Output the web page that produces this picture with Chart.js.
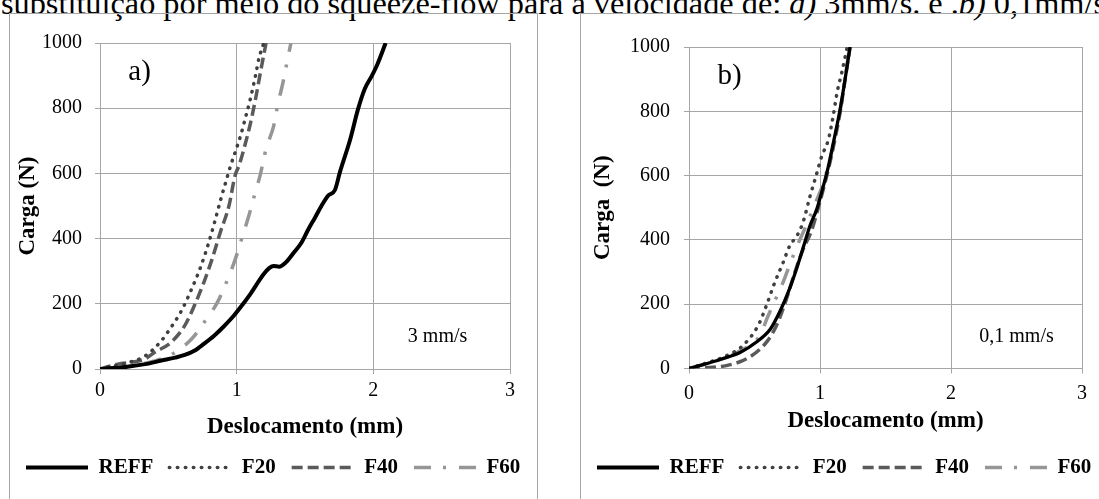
<!DOCTYPE html>
<html lang="pt">
<head>
<meta charset="UTF-8">
<title>Squeeze-flow: carga x deslocamento</title>
<script src="https://cdn.jsdelivr.net/npm/chart.js"></script>
<style>
  * { margin: 0; padding: 0; box-sizing: border-box; }
  html, body { width: 1099px; height: 499px; overflow: hidden; background: #fff; }
  body { position: relative; font-family: "Liberation Serif", "Times New Roman", serif; color: #000; }
  .legenda {
    position: absolute; left: 1px; top: -13px;
    font-size: 32.3px; line-height: 32px; white-space: nowrap;
  }
  .moldura { position: absolute; border: 1px solid #a6a6a6; }
  #boxA { left: 9px; top: 13px; width: 529px; height: 520px; }
  #boxB { left: 580px; top: 13px; width: 560px; height: 520px; }
  canvas { position: absolute; }
  #chartA { left: 10px; top: 14px; }
  #chartB { left: 581px; top: 14px; }
</style>
</head>
<body>
  <div class="legenda">substituição por meio do squeeze-flow para a velocidade de: <i>a)</i> 3mm/s. e .<i>b)</i> 0,1mm/s</div>
  <div class="moldura" id="boxA"></div>
  <div class="moldura" id="boxB"></div>
  <canvas id="chartA" width="550" height="485"></canvas>
  <canvas id="chartB" width="560" height="485"></canvas>

<script>
  // ---- a) 3 mm/s ----
  const deslocA_REFF = [0, 0.1, 0.2, 0.33, 0.45, 0.55, 0.62, 0.69, 0.76, 0.835, 0.9, 0.98, 1.04, 1.1, 1.15, 1.2, 1.24, 1.27, 1.31, 1.36, 1.42, 1.476, 1.52, 1.574, 1.62, 1.67, 1.72, 1.755, 1.83, 1.888, 1.937, 1.99, 2.03, 2.09];
  const cargaA_REFF  = [0, 3, 7, 15, 26, 35, 43, 56, 77, 102, 128, 164, 196, 230, 262, 292, 310, 316, 314, 327, 358, 389, 425, 465, 500, 532, 550, 603, 703, 797, 859, 900, 935, 1000];
  const deslocA_F20 = [0, 0.04, 0.12, 0.21, 0.33, 0.45, 0.52, 0.59, 0.67, 0.74, 0.8, 0.835, 0.884, 0.92, 0.956, 0.993, 1.029, 1.065, 1.097, 1.138, 1.162, 1.198];
  const cargaA_F20  = [0, 5, 11, 20, 40, 87, 128, 174, 245, 317, 394, 445, 521, 573, 624, 670, 716, 772, 823, 900, 951, 1000];
  const deslocA_F40 = [0, 0.13, 0.25, 0.33, 0.4, 0.52, 0.62, 0.69, 0.76, 0.82, 0.88, 0.944, 0.988, 1.017, 1.053, 1.102, 1.138, 1.174, 1.215];
  const cargaA_F40  = [0, 15, 22, 31, 51, 82, 133, 194, 266, 337, 419, 501, 593, 624, 675, 756, 828, 910, 1000];
  const deslocA_F60 = [0, 0.2, 0.4, 0.53, 0.67, 0.77, 0.86, 0.93, 0.99, 1.04, 1.089, 1.133, 1.174, 1.215, 1.271, 1.302, 1.339, 1.373, 1.397];
  const cargaA_F60  = [0, 8, 25, 46, 92, 148, 205, 271, 337, 404, 470, 537, 598, 675, 746, 813, 879, 951, 1000];

  // ---- b) 0,1 mm/s ----
  const deslocB_REFF = [0, 0.1, 0.21, 0.3, 0.39, 0.51, 0.62, 0.69, 0.756, 0.82, 0.883, 0.924, 0.975, 1.025, 1.064, 1.107, 1.153, 1.191, 1.229];
  const cargaB_REFF  = [0, 11, 24, 36, 50, 81, 122, 174, 236, 309, 391, 445, 495, 567, 629, 712, 805, 898, 1000];
  const deslocB_F20 = [0, 0.107, 0.26, 0.41, 0.527, 0.59, 0.654, 0.718, 0.768, 0.827, 0.873, 0.924, 0.969, 1.013, 1.064, 1.1, 1.132, 1.165, 1.208];
  const cargaB_F20  = [0, 14, 35, 71, 133, 195, 267, 329, 381, 415, 458, 536, 598, 660, 712, 784, 862, 918, 1000];
  const deslocB_F40 = [0, 0.1, 0.285, 0.46, 0.59, 0.667, 0.743, 0.807, 0.87, 0.934, 0.98, 1.03, 1.07, 1.11, 1.155, 1.19, 1.23];
  const cargaB_F40  = [0, 2, 9, 35, 81, 133, 215, 298, 370, 427, 490, 565, 630, 705, 800, 895, 1000];
  const deslocB_F60 = [0, 0.21, 0.39, 0.54, 0.6, 0.66, 0.72, 0.78, 0.84, 0.9, 0.96, 1.02, 1.07, 1.11, 1.155, 1.19, 1.225];
  const cargaB_F60  = [0, 24, 55, 102, 160, 215, 270, 335, 395, 450, 510, 570, 640, 712, 805, 898, 1000];

  const series = ['REFF', 'F20', 'F40', 'F60'];
  const limiteX = [0, 3];
  const limiteY = [0, 1000];
  const passoX = 1;
  const passoY = 200;

  const fonte = '"Liberation Serif", "Times New Roman", serif';
  Chart.defaults.font.family = fonte;
  Chart.defaults.color = '#000';

  const estilos = {
    REFF: { borderColor: '#000000', borderWidth: 4,   borderDash: [],              borderCapStyle: 'butt' },
    F20:  { borderColor: '#404040', borderWidth: 3.5, borderDash: [0.5, 7.5],      borderCapStyle: 'round' },
    F40:  { borderColor: '#5a5a5a', borderWidth: 3.5, borderDash: [11, 5],         borderCapStyle: 'butt' },
    F60:  { borderColor: '#969696', borderWidth: 3.5, borderDash: [17, 12, 3, 13], borderCapStyle: 'butt' }
  };

  const cinzaGrade = '#a6a6a6';
  const fonteTick = { family: fonte, size: 20 };
  const fonteTitulo = { family: fonte, size: 23, weight: 'bold' };
  const fonteLegenda = { family: fonte, size: 21, weight: 'bold' };

  function pontos(xs, ys) {
    return xs.map((x, i) => ({ x: x, y: ys[i] }));
  }

  // writes the panel letter and the test speed inside the plot
  const textosPlugin = {
    id: 'textos',
    afterDatasetsDraw(chart, args, opts) {
      const { ctx, scales: { x, y } } = chart;
      ctx.save();
      ctx.fillStyle = '#000';
      ctx.textAlign = 'center';
      ctx.textBaseline = 'middle';
      ctx.font = '29px ' + fonte;
      ctx.fillText(opts.painel, x.getPixelForValue(opts.painelEm[0]), y.getPixelForValue(opts.painelEm[1]));
      ctx.font = '20px ' + fonte;
      ctx.fillText(opts.velocidade, x.getPixelForValue(opts.velEm[0]), y.getPixelForValue(opts.velEm[1]));
      ctx.restore();
    }
  };

  function grafico(id, dados, cfg) {
    const datasets = series.map((nome, i) => Object.assign({
      label: nome,
      data: pontos(dados[i][0], dados[i][1]),
      showLine: true,
      fill: false,
      pointRadius: 0,
      pointHoverRadius: 0,
      cubicInterpolationMode: 'monotone',
      xAxisID: 'x',
      yAxisID: 'y'
    }, estilos[nome], nome === 'REFF' ? { borderWidth: cfg.larguraRef } : {}));

    return new Chart(document.getElementById(id), {
      type: 'scatter',
      data: { datasets: datasets },
      plugins: [textosPlugin],
      options: {
        responsive: false,
        animation: false,
        layout: { padding: { left: 0, right: 0, top: cfg.topo, bottom: 11 } },
        plugins: {
          tooltip: { enabled: false },
          legend: {
            position: 'bottom',
            align: 'start',
            labels: {
              usePointStyle: true,
              pointStyleWidth: 62,
              padding: 16,
              font: fonteLegenda,
              color: '#000',
              generateLabels: chart => chart.data.datasets.map((ds, i) => ({
                text: ds.label,
                fillStyle: ds.borderColor,
                strokeStyle: ds.borderColor,
                lineWidth: ds.label === 'REFF' ? 4 : ds.borderWidth,
                lineDash: ds.borderDash,
                lineCap: ds.borderCapStyle,
                pointStyle: 'line',
                fontColor: '#000',
                hidden: false,
                datasetIndex: i
              }))
            }
          },
          textos: cfg.textos
        },
        scales: {
          x: {
            type: 'linear',
            min: limiteX[0], max: limiteX[1],
            afterFit: s => { s.height = cfg.alturaX; },
            ticks: { stepSize: passoX, padding: cfg.padTickX, font: fonteTick, color: '#000', callback: v => String(v) },
            grid: { color: cinzaGrade, lineWidth: 1, tickLength: 5 },
            border: { color: cinzaGrade, width: 1 },
            title: {
              display: true, text: 'Deslocamento (mm)', color: '#000',
              font: fonteTitulo,
              padding: { top: 0, bottom: cfg.padTituloX }
            }
          },
          y: {
            type: 'linear',
            position: 'left',
            min: limiteY[0], max: limiteY[1],
            afterFit: s => { s.width = cfg.larguraY; },
            ticks: { stepSize: passoY, padding: cfg.padTickY, font: fonteTick, color: '#000', callback: v => String(v) },
            grid: { color: cinzaGrade, lineWidth: 1, tickLength: 5 },
            border: { color: cinzaGrade, width: 1 },
            title: {
              display: true, text: cfg.tituloY, color: '#000',
              font: fonteTitulo,
              padding: { top: cfg.padTituloY, bottom: 0 }
            }
          },
          // empty axis on the right, only keeps the plot narrower than the legend row
          margem: {
            type: 'linear',
            position: 'right',
            display: true,
            grid: { display: false },
            border: { display: false },
            ticks: { display: false },
            afterFit: s => { s.width = cfg.margemDir; }
          }
        }
      }
    });
  }

  grafico('chartA', [
    [deslocA_REFF, cargaA_REFF],
    [deslocA_F20, cargaA_F20],
    [deslocA_F40, cargaA_F40],
    [deslocA_F60, cargaA_F60]
  ], {
    topo: 29, alturaX: 72, larguraY: 90, margemDir: 50,
    padTickX: 5, padTickY: 13, padTituloX: 0, padTituloY: 4,
    larguraRef: 4, tituloY: 'Carga (N)',
    textos: { painel: 'a)', painelEm: [0.29, 911], velocidade: '3 mm/s', velEm: [2.47, 100] }
  });

  grafico('chartB', [
    [deslocB_REFF, cargaB_REFF],
    [deslocB_F20, cargaB_F20],
    [deslocB_F40, cargaB_F40],
    [deslocB_F60, cargaB_F60]
  ], {
    topo: 33, alturaX: 72.5, larguraY: 108, margemDir: 59,
    padTickX: 8, padTickY: 14, padTituloX: 6, padTituloY: 8,
    larguraRef: 3.3, tituloY: 'Carga  (N)',
    textos: { painel: 'b)', painelEm: [0.31, 908], velocidade: '0,1 mm/s', velEm: [2.5, 98] }
  });
</script>
</body>
</html>
